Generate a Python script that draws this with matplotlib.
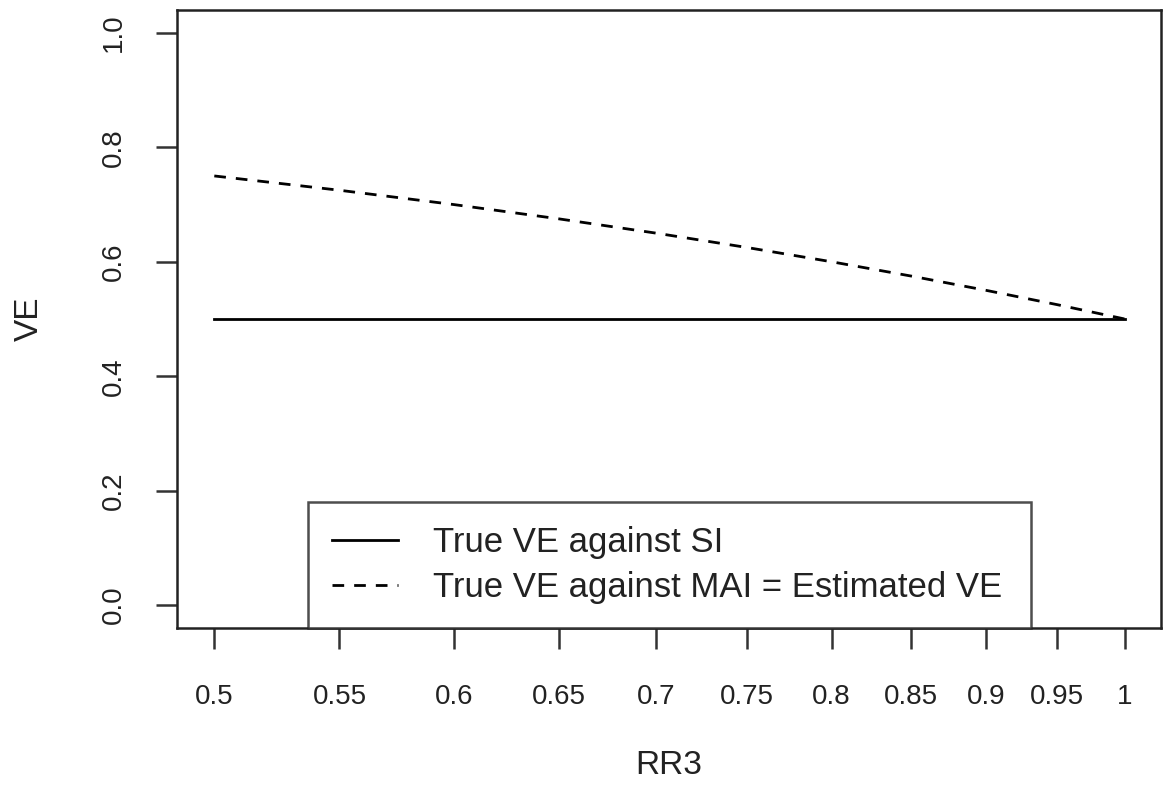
import matplotlib
matplotlib.use('Agg')
import matplotlib.pyplot as plt
import numpy as np

plt.rcParams['font.family'] = ['Liberation Sans', 'DejaVu Sans']

# data
rr3 = [0.5, 0.55, 0.6, 0.65, 0.7, 0.75, 0.8, 0.85, 0.9, 0.95, 1.0]
ve_si = [0.5, 0.5, 0.5, 0.5, 0.5, 0.5, 0.5, 0.5, 0.5, 0.5, 0.5]
ve_mai = [0.75, 0.725, 0.70, 0.675, 0.65, 0.625, 0.60, 0.575, 0.55, 0.525, 0.50]
xtick_labels = ['0.5', '0.55', '0.6', '0.65', '0.7', '0.75', '0.8', '0.85', '0.9', '0.95', '1']
yticks = [0.0, 0.2, 0.4, 0.6, 0.8, 1.0]

W, H = 1163, 798
fig = plt.figure(figsize=(W / 100, H / 100), dpi=100)
ax = fig.add_axes([177 / W, 1 - 628 / H, 984 / W, 618 / H])

ax.plot(rr3, ve_si, color='black', lw=2.0, label='True VE against SI')
ax.plot(rr3, ve_mai, color='black', lw=2.0, linestyle=(0, (4.2, 3.6)),
        label='True VE against MAI = Estimated VE')

ax.set_xscale('log')
ax.set_xlim(0.486, 1.028)
ax.set_ylim(-0.04, 1.04)
ax.set_xticks(rr3)
ax.set_xticklabels(xtick_labels)
ax.xaxis.set_minor_locator(matplotlib.ticker.NullLocator())
ax.set_yticks(yticks)
ax.set_yticklabels(['%.1f' % v for v in yticks], rotation=90, va='center')

for s in ax.spines.values():
    s.set_linewidth(1.8)
    s.set_color('#222222')
ax.tick_params(axis='both', length=15, width=1.8, color='#333333',
               labelsize=20, labelcolor='#222222')
ax.tick_params(axis='x', pad=25)
ax.tick_params(axis='y', pad=21)

ax.set_xlabel('RR3', fontsize=24, color='#222222', va='center')
ax.xaxis.set_label_coords(0.5, -(766 - 628) / 618)
ax.set_ylabel('VE', fontsize=24, color='#222222', va='center')
ax.yaxis.set_label_coords((29 - 177) / 984, 0.5)

leg = ax.legend(loc='lower left', bbox_to_anchor=((308 - 177) / 984, 0, (1031 - 308) / 984, 0.2),
                mode='expand', borderaxespad=0, fontsize=25, handlelength=1.9,
                handletextpad=1.0, labelspacing=0.33, borderpad=0.7, fancybox=False,
                frameon=True)
frame = leg.get_frame()
frame.set_edgecolor('#222222')
frame.set_linewidth(1.8)
for t in leg.get_texts():
    t.set_color('#222222')

plt.savefig('out.png', dpi=100)
